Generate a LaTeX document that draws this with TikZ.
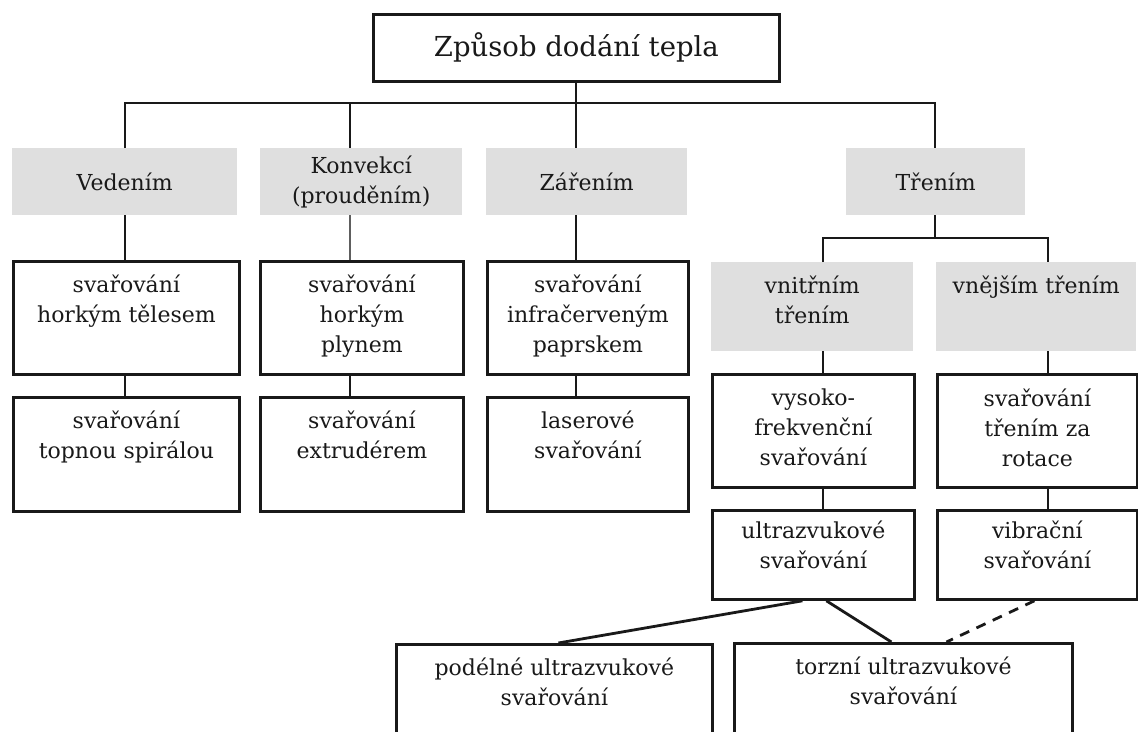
\documentclass[tikz,border=0pt]{standalone}
\usepackage{fontspec}
\setmainfont{DejaVu Serif}
\usetikzlibrary{calc}
\definecolor{boxgray}{RGB}{223,223,223}
\definecolor{ink}{RGB}{25,25,25}
\newcommand{\mybox}[7]{%
  \node[#1, minimum width={(#5)-(#3)}, minimum height={(#6)-(#4)}, anchor=north west] (#2) at (#3,#4) {#7};}
\begin{document}
\begin{tikzpicture}[x=1pt,y=-1pt,
  ln/.style={draw=ink,line width=2.8pt},
  wbox/.style={draw=ink,line width=2.8pt,fill=white,inner sep=0pt},
  gbox/.style={fill=boxgray,inner sep=0pt,align=center,font=\fontsize{22}{30}\selectfont,text=ink},
  tbox/.style={draw=ink,line width=2.8pt,fill=white,inner sep=0pt,align=center,font=\fontsize{27.5}{32}\selectfont,text=ink},
  txt/.style={align=center,inner sep=0pt,anchor=north,font=\fontsize{22}{30}\selectfont,text=ink},
]
\clip (0,0) rectangle (1138,731);
\fill[white] (0,0) rectangle (1138,731);

% boxes
\mybox{tbox}{top}{372}{13}{778}{80}{Způsob dodání tepla}
\mybox{gbox}{ved}{12}{148}{237}{215}{Vedením}
\mybox{gbox}{kon}{260}{148}{462}{215}{Konvekcí\\(prouděním)}
\mybox{gbox}{zar}{486}{148}{687}{215}{Zářením}
\mybox{gbox}{tre}{846}{148}{1025}{215}{Třením}

\mybox{wbox}{r2a}{12}{260}{238}{373}{}
\mybox{wbox}{r2b}{259}{260}{462}{373}{}
\mybox{wbox}{r2c}{486}{260}{687}{373}{}
\mybox{gbox}{vni}{711}{262}{913}{351}{}
\mybox{gbox}{vne}{936}{262}{1136}{351}{}

\mybox{wbox}{r3a}{12}{396}{238}{510}{}
\mybox{wbox}{r3b}{259}{396}{462}{510}{}
\mybox{wbox}{r3c}{486}{396}{687}{510}{}
\mybox{wbox}{vys}{711}{373}{913}{486}{}
\mybox{wbox}{rot}{936}{373}{1136}{486}{}

\mybox{wbox}{ult}{711}{509}{913}{598}{}
\mybox{wbox}{vib}{936}{509}{1136}{598}{}

\mybox{wbox}{pod}{395}{643}{711}{770}{}
\mybox{wbox}{tor}{733}{642}{1071}{770}{}

% texts
\node[txt] (t2a) at ($(r2a.north)+(0,15)$) {svařování\\horkým tělesem};
\node[txt] (t2b) at ($(r2b.north)+(0,15)$) {svařování\\horkým\\plynem};
\node[txt] (t2c) at ($(r2c.north)+(0,15)$) {svařování\\infračerveným\\paprskem};
\node[txt] (tvni) at ($(vni.north)+(0,14)$) {vnitřním\\třením};
\node[txt] (tvne) at ($(vne.north)+(0,14)$) {vnějším třením};
\node[txt] (t3a) at ($(r3a.north)+(0,15)$) {svařování\\topnou spirálou};
\node[txt] (t3b) at ($(r3b.north)+(0,15)$) {svařování\\extrudérem};
\node[txt] (t3c) at ($(r3c.north)+(0,15)$) {laserové\\svařování};
\node[txt] (tvys) at ($(vys.north)+(0,16)$) {vysoko-\\frekvenční\\svařování};
\node[txt] (trot) at ($(rot.north)+(0,16)$) {svařování\\třením za\\rotace};
\node[txt] (tult) at ($(ult.north)+(0,12)$) {ultrazvukové\\svařování};
\node[txt] (tvib) at ($(vib.north)+(0,12)$) {vibrační\\svařování};
\node[txt] (tpod) at ($(pod.north)+(0,15)$) {podélné ultrazvukové\\svařování};
\node[txt] (ttor) at ($(tor.north)+(0,15)$) {torzní ultrazvukové\\svařování};

% column coordinates
\coordinate (x1) at (125,0);
\coordinate (x2) at (350,0);
\coordinate (x3) at (576,0);
\coordinate (x4) at (935,0);
\coordinate (x5) at (823,0);
\coordinate (x6) at (1048,0);
\coordinate (bus) at (576,103);
\coordinate (bus2) at (935,238);

% connectors
\draw[ln] (x1 |- ved.north) |- (bus) -| (x4 |- tre.north);
\draw[ln] (x2 |- bus) -- (x2 |- kon.north);
\draw[ln] (x3 |- top.south) -- (x3 |- zar.north);

\draw[ln] (x1 |- ved.south) -- (x1 |- r2a.north);
\draw[draw=ink!70,line width=1.4pt] (x2 |- kon.south) -- (x2 |- r2b.north);
\draw[ln] (x3 |- zar.south) -- (x3 |- r2c.north);

\draw[ln] (x1 |- r2a.south) -- (x1 |- r3a.north);
\draw[ln] (x2 |- r2b.south) -- (x2 |- r3b.north);
\draw[ln] (x3 |- r2c.south) -- (x3 |- r3c.north);

\draw[ln] (x4 |- tre.south) -- (bus2);
\draw[ln] (x5 |- vni.north) |- (bus2) -| (x6 |- vne.north);
\draw[ln] (x5 |- vni.south) -- (x5 |- vys.north);
\draw[ln] (x6 |- vne.south) -- (x6 |- rot.north);
\draw[ln] (x5 |- vys.south) -- (x5 |- ult.north);
\draw[ln] (x6 |- rot.south) -- (x6 |- vib.north);

\draw[ln] ($(ult.south)+(-11,0)$) -- ($(pod.north)+(4,0)$);
\draw[ln] ($(ult.south)+(13,0)$) -- ($(tor.north)+(-12,0)$);
\draw[ln,dashed,dash pattern=on 10pt off 8pt] ($(vib.south)+(-3,0)$) -- ($(tor.north)+(43,0)$);
\end{tikzpicture}
\end{document}
